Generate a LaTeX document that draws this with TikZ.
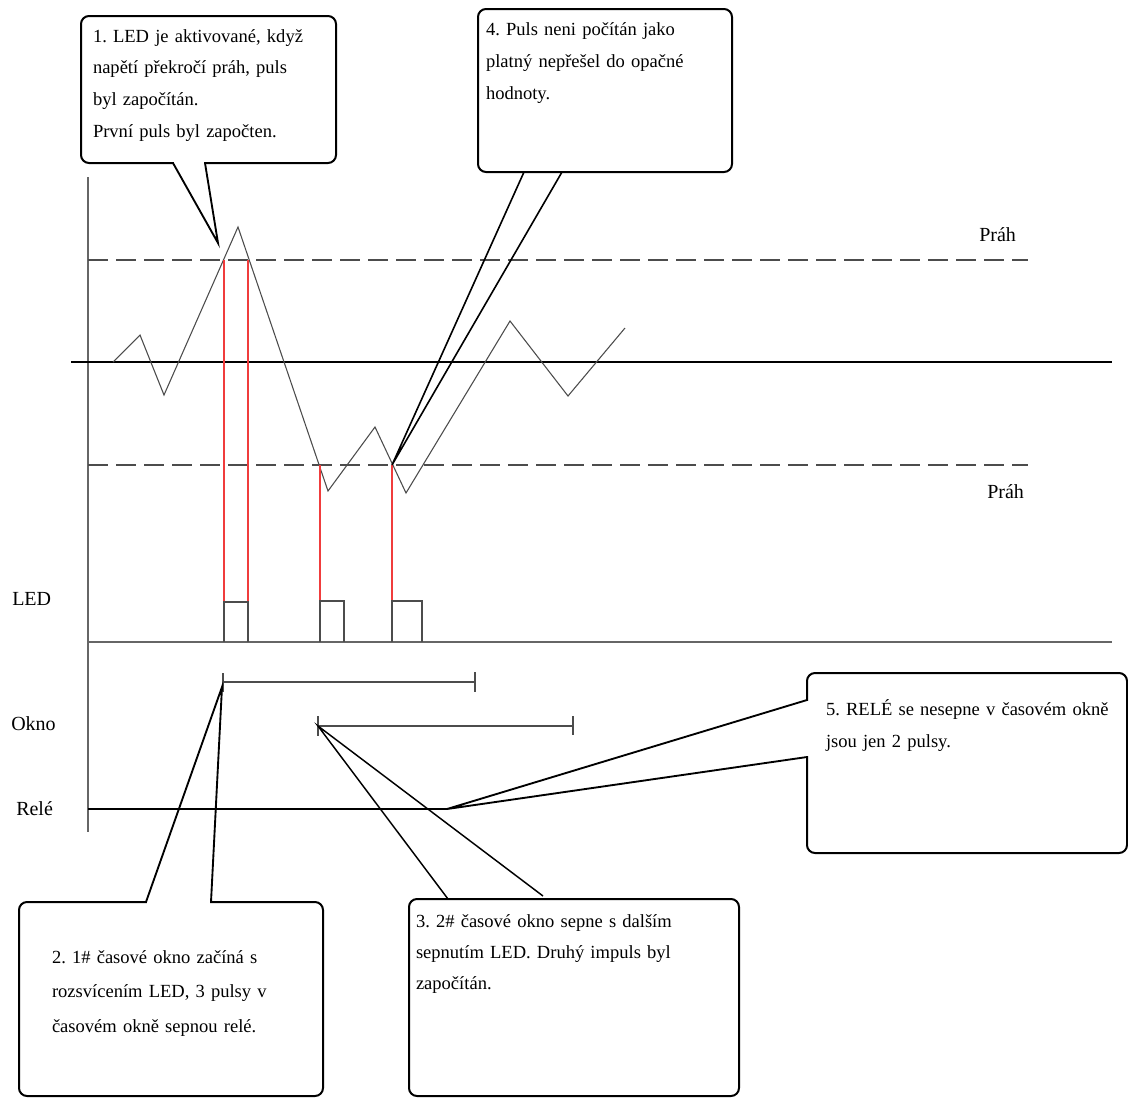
\documentclass[tikz,border=0pt]{standalone}
\usepackage{fontspec}
\setmainfont{Liberation Serif}
\usetikzlibrary{calc}
\definecolor{redline}{RGB}{240,60,60}
\begin{document}
\frenchspacing
\begin{tikzpicture}[x=0.75pt,y=-0.75pt,
  callbox/.style={draw=black, line width=1.5pt, rounded corners=6pt, fill=white, inner sep=0pt, outer sep=0pt},
  tail/.style={draw=black, line width=1.4pt, line join=miter},
  boxtext/.style={anchor=base west, inner sep=0pt, outer sep=0pt, align=left, text width=320pt},
  lbl/.style={anchor=base west, inner sep=0pt, font=\fontsize{15}{18}\selectfont},
  sig/.style={draw=black!70, line width=0.8pt},
  axis/.style={draw=black!60, line width=1.1pt},
  thr/.style={draw=black!70, line width=0.8pt, dash pattern=on 15pt off 6pt},
  redl/.style={draw=redline, line width=0.8pt},
  pulse/.style={draw=black!70, line width=1pt},
  win/.style={draw=black!70, line width=0.9pt},
  rele/.style={draw=black, line width=1.6pt},
]
\useasboundingbox (0,0) rectangle (1128,1097);
\fill[white] (0,0) rectangle (1128,1097);

% axes and reference lines
\draw[axis] (88,177) -- (88,832);
\draw[draw=black, line width=0.8pt] (71,362) -- (1112,362);
\draw[axis, line width=0.9pt] (88,642) -- (1112,642);
\draw[thr] (88,260) -- (1028,260);
\draw[thr] (88,465) -- (1028,465);

% labels
\node[lbl] (prah1) at (979,241) {Práh};
\node[lbl] (prah2) at (987,498) {Práh};
\node[lbl] (led) at (12,605) {LED};
\node[lbl] (okno) at (11,730) {Okno};
\node[lbl] (rele) at (16,815) {Relé};

% signal
\draw[sig, line join=miter] (113,362) -- (140,335) -- (164,395) -- (238,227) -- (328,491) -- (375,427) -- (406,493) -- (510,321) -- (568,396) -- (625,328);

% red threshold crossings
\draw[redl] (224,260) -- (224,602);
\draw[redl] (248,260) -- (248,602);
\draw[redl] (320,465) -- (320,601);
\draw[redl] (392,465) -- (392,601);

% LED pulses
\draw[pulse] (224,642) -- (224,602) -- (248,602) -- (248,642);
\draw[pulse] (320,642) -- (320,601) -- (344,601) -- (344,642);
\draw[pulse] (392,642) -- (392,601) -- (422,601) -- (422,642);

% time windows
\draw[win] (223,682) -- (475,682);
\draw[win] (223,673) -- (223,692);
\draw[win] (475,672) -- (475,692);
\draw[win] (318,726) -- (573,726);
\draw[win] (318,716) -- (318,736);
\draw[win] (573,716) -- (573,735);

% relay line
\draw[rele] (88,809) -- (447,809);

% tip coordinates
\coordinate (t1) at (218,243);
\coordinate (t2) at (222,687);
\coordinate (t3) at (318,726);
\coordinate (t4) at (392,465);
\coordinate (t5) at (447,809);

% callout boxes
\node[callbox, minimum width=191.25pt, minimum height=110.25pt] (c1) at (208.5,89.5) {};
\node[callbox, minimum width=190.5pt, minimum height=122.25pt] (c4) at (605,90.5) {};
\node[callbox, minimum width=240pt, minimum height=135pt] (c5) at (967,763) {};
\node[callbox, minimum width=228pt, minimum height=145.5pt] (c2) at (171,999) {};
\node[callbox, minimum width=247.5pt, minimum height=147.75pt] (c3) at (574,997.5) {};

% gaps in borders where tails attach
\fill[white] ($(c1.south west)+(93,-3)$) rectangle ($(c1.south west)+(123,3)$);
\fill[white] ($(c2.north west)+(128,-3)$) rectangle ($(c2.north west)+(191,3)$);
\fill[white] ($(c5.north west)+(-3,28)$) rectangle ($(c5.north west)+(3,83)$);

% tails
\draw[tail] ($(c1.south west)+(92,0)$) -- (t1) -- ($(c1.south west)+(124,0)$);
\draw[tail] ($(c2.north west)+(127,0)$) -- (t2) -- ($(c2.north west)+(192,0)$);
\draw[tail] ($(c5.north west)+(0,27)$) -- (t5) -- ($(c5.north west)+(0,84)$);
\draw[tail, line width=1.2pt] ($(c4.south west)+(46,0)$) -- (t4) -- ($(c4.south west)+(84,0)$);
\draw[tail, line width=1.1pt] ($(c3.north west)+(39,0)$) -- (t3) -- ($(c3.north west)+(134,-3)$);

% callout texts
\node[boxtext, font=\fontsize{13.9}{23.8}\selectfont] (x1) at (93,42) {1. LED je aktivované, když\\napětí překročí práh, puls\\byl započítán.\\První puls byl započten.};
\node[boxtext, font=\fontsize{13.9}{24}\selectfont] (x4) at (486,35) {4. Puls neni počítán jako\\platný nepřešel do opačné\\hodnoty.};
\node[boxtext, font=\fontsize{13.9}{24}\selectfont] (x5) at (826,715) {5. RELÉ se nesepne v časovém okně\\jsou jen 2 pulsy.};
\node[boxtext, font=\fontsize{13.9}{25.9}\selectfont] (x2) at (52,963) {2. 1\# časové okno začíná s\\rozsvícením LED, 3 pulsy v\\časovém okně sepnou relé.};
\node[boxtext, font=\fontsize{13.9}{23.6}\selectfont] (x3) at (416,927) {3. 2\# časové okno sepne s dalším\\sepnutím LED. Druhý impuls byl\\započítán.};
\end{tikzpicture}
\end{document}
